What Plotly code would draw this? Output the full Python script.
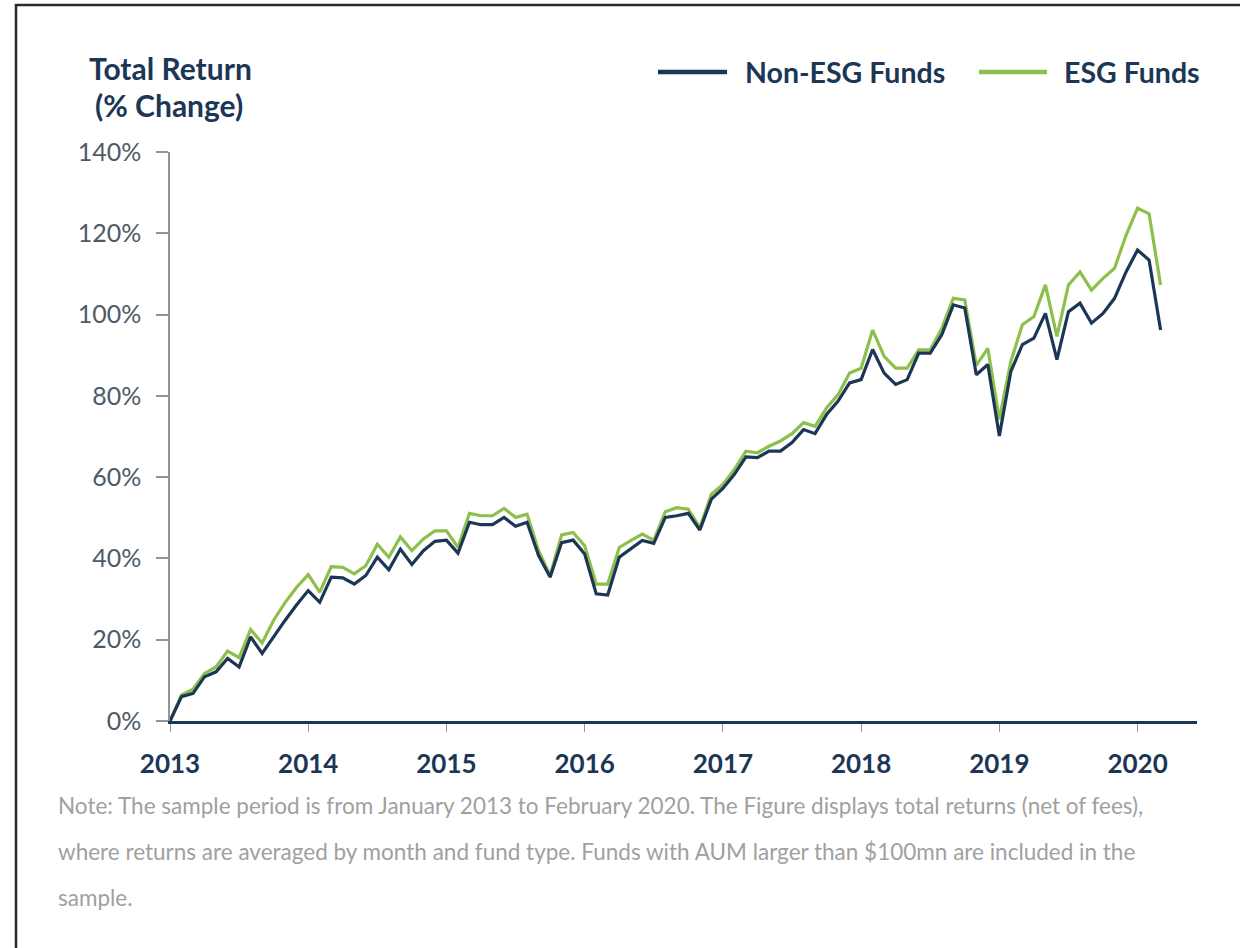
import plotly.graph_objects as go

# ---------------- data ----------------
start_year = 2013
non_esg = [0, 6.0, 6.8, 10.9, 12.1, 15.4, 13.3, 20.7, 16.6, 20.8, 24.8, 28.6,
           32.1, 29.2, 35.4, 35.2, 33.7, 35.8, 40.3, 37.2, 42.3, 38.5, 41.9, 44.2,
           44.5, 41.3, 48.9, 48.3, 48.3, 50.1, 47.9, 48.9, 40.7, 35.4, 43.9, 44.5,
           41.1, 31.3, 31.0, 40.3, 42.3, 44.4, 43.7, 50.1, 50.5, 51.1, 47.0, 54.6,
           57.2, 60.7, 65.0, 64.8, 66.4, 66.4, 68.5, 71.7, 70.7, 75.4, 78.7, 83.2,
           84.0, 91.4, 85.6, 82.8, 84.0, 90.5, 90.5, 95.0, 102.4, 101.6, 85.2, 87.7,
           70.1, 86.0, 92.6, 94.2, 100.3, 88.9, 100.7, 102.8, 97.9, 100.3, 104.0, 110.5,
           115.9, 113.4, 96.2]
esg = [0, 6.4, 7.8, 11.7, 13.3, 17.2, 15.6, 22.5, 19.2, 24.8, 29.2, 32.9,
       36.0, 31.7, 38.0, 37.8, 36.2, 38.2, 43.5, 40.3, 45.3, 41.9, 44.8, 46.8,
       46.8, 42.7, 51.1, 50.5, 50.5, 52.3, 50.1, 50.9, 41.9, 35.8, 45.8, 46.4,
       43.1, 33.7, 33.7, 42.7, 44.4, 46.0, 44.5, 51.5, 52.5, 52.1, 47.6, 55.8,
       58.2, 61.9, 66.4, 66.0, 67.6, 68.9, 70.7, 73.4, 72.5, 77.0, 80.3, 85.6,
       86.8, 96.2, 89.7, 86.8, 86.8, 91.3, 91.3, 96.6, 104.0, 103.6, 87.5, 91.7,
       74.2, 88.5, 97.5, 99.5, 107.3, 94.6, 107.3, 110.5, 106.0, 108.9, 111.4, 119.5,
       126.2, 124.8, 107.3]
months = [start_year + i / 12 for i in range(len(non_esg))]
year_ticks = [2013, 2014, 2015, 2016, 2017, 2018, 2019, 2020]
year_labels = ["2013", "2014", "2015", "2016", "2017", "2018", "2019", "2020"]
y_ticks = [0, 20, 40, 60, 80, 100, 120, 140]
y_labels = ["0%", "20%", "40%", "60%", "80%", "100%", "120%", "140%"]
series_names = ["Non-ESG Funds", "ESG Funds"]
title_lines = ["Total Return", "(% Change)"]
note_lines = [
    "Note: The sample period is from January 2013 to February 2020. The Figure displays total returns (net of fees),",
    "where returns are averaged by month and fund type. Funds with AUM larger than $100mn are included in the",
    "sample.",
]

# ---------------- layout geometry (pixels of the 1240x948 page) ----------------
W, H = 1240, 948
L, R, T, B = 170, 43, 152, 227
PW, PH = W - L - R, H - T - B


def px_x(px):
    return (px - L) / PW


def px_y(py):
    return 1 - (py - T) / PH


NAVY = "#1c3656"
GREEN = "#8dc04b"
GRAY_AXIS = "#8e959c"
BOLD_FONT = "Lato, Roboto, sans-serif"

fig = go.Figure()
fig.add_trace(go.Scatter(x=months, y=esg, mode="lines", name=series_names[1],
                         line=dict(color=GREEN, width=3.2), showlegend=False))
fig.add_trace(go.Scatter(x=months, y=non_esg, mode="lines", name=series_names[0],
                         line=dict(color=NAVY, width=3.2), showlegend=False))

fig.update_layout(
    width=W, height=H,
    margin=dict(l=L, r=R, t=T, b=B),
    paper_bgcolor="white", plot_bgcolor="white",
    xaxis=dict(range=[2013, 2020.43], tickvals=year_ticks, ticktext=year_labels,
               showgrid=False, zeroline=False, showline=True, linecolor=NAVY, linewidth=3,
               ticks="outside", ticklen=8, tickcolor=GRAY_AXIS, tickwidth=1,
               ticklabelstandoff=10,
               tickfont=dict(family=BOLD_FONT, size=26, color=NAVY, weight="bold")),
    yaxis=dict(range=[0, 140], tickvals=y_ticks, ticktext=y_labels,
               showgrid=False, zeroline=False, showline=True, linecolor=GRAY_AXIS, linewidth=1.5,
               ticks="outside", ticklen=12, tickcolor=GRAY_AXIS, tickwidth=1.5,
               ticklabelstandoff=10,
               tickfont=dict(family="Lato, Open Sans, sans-serif", size=25, color="#4e5a66")),
)

annotations = []
# axis title (two bold lines, top-left)
annotations.append(dict(x=px_x(87), y=px_y(68), xref="paper", yref="paper",
                        text=title_lines[0], showarrow=False, xanchor="left", yanchor="middle",
                        font=dict(family=BOLD_FONT, size=30, color=NAVY, weight="bold")))
annotations.append(dict(x=px_x(93), y=px_y(105), xref="paper", yref="paper",
                        text=title_lines[1], showarrow=False, xanchor="left", yanchor="middle",
                        font=dict(family=BOLD_FONT, size=30, color=NAVY, weight="bold")))

# legend (line swatch + bold label for each series)
legend_items = [(series_names[0], NAVY, 658, 727, 743), (series_names[1], GREEN, 979, 1047, 1062)]
for name, col, lx0, lx1, tx in legend_items:
    fig.add_shape(type="line", xref="paper", yref="paper",
                  x0=px_x(lx0), x1=px_x(lx1), y0=px_y(72), y1=px_y(72),
                  line=dict(color=col, width=4.5))
    annotations.append(dict(x=px_x(tx), y=px_y(72), xref="paper", yref="paper",
                            text=name, showarrow=False, xanchor="left", yanchor="middle",
                            font=dict(family=BOLD_FONT, size=28.5, color=NAVY, weight="bold")))

# note below the chart
for k, line in enumerate(note_lines):
    annotations.append(dict(x=px_x(56), y=px_y(805 + 46 * k), xref="paper", yref="paper",
                            text=line, showarrow=False, xanchor="left", yanchor="middle",
                            font=dict(family="Lato, Open Sans, sans-serif", size=22.5, color="#a0a0a0")))
fig.update_layout(annotations=annotations)

# outer frame
fig.add_shape(type="rect", xref="paper", yref="paper",
              x0=px_x(16), x1=px_x(1300), y0=px_y(1000), y1=px_y(5),
              line=dict(color="#2a2a2a", width=2.5), fillcolor="rgba(0,0,0,0)", layer="above")

fig.write_html("out.html", config={"displayModeBar": False},
               post_script="document.body.style.margin='0px';")
